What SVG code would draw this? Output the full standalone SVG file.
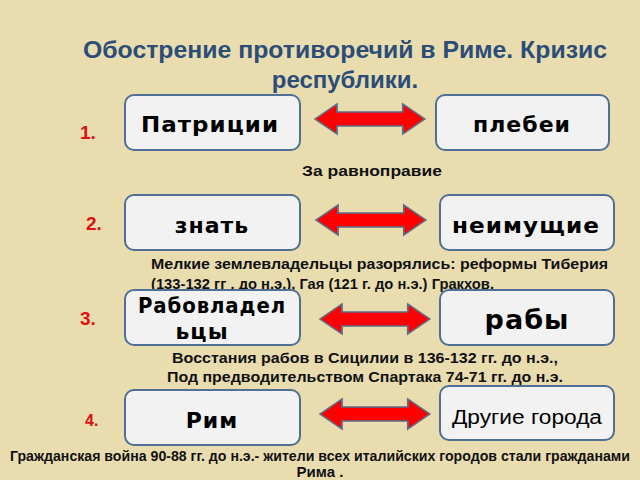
<svg xmlns="http://www.w3.org/2000/svg" width="640" height="480" viewBox="0 0 640 480">
<style>
.box{fill:#f2f2f2;stroke:#4f6f95;stroke-width:2}
.bt{font-family:"DejaVu Sans",sans-serif;font-weight:bold;font-size:22px;fill:#000;text-anchor:middle;letter-spacing:1px}
.arr{fill:#ff0000;stroke:#5a6f8a;stroke-width:1.5}
.cap{font-family:"Liberation Sans",sans-serif;font-weight:bold;font-size:15px;fill:#111}
.num{font-family:"Liberation Sans",sans-serif;font-weight:bold;font-size:19px;fill:#e01010}
.title{font-family:"Liberation Sans",sans-serif;font-weight:bold;font-size:24px;fill:#2b4d78;text-anchor:middle}
</style>
<defs>
<path id="dbl" d="M0,0 L18,-15 L18,-7 L72,-7 L72,-15 L90,0 L72,15 L72,7 L18,7 L18,15 Z"/>
</defs>
<rect width="640" height="480" fill="#e9ddb0"/>
<text class="title" x="345" y="58" textLength="524" lengthAdjust="spacingAndGlyphs">Обострение противоречий в Риме. Кризис</text>
<text class="title" x="345" y="88">республики.</text>
<g id="n1">
<text class="num" x="80" y="139">1.</text>
<g id="patr"><rect class="box" x="125" y="95" width="175" height="55" rx="9"/><text class="bt" x="210" y="132" textLength="138" lengthAdjust="spacingAndGlyphs">Патриции</text></g>
<g id="pleb"><rect class="box" x="436" y="95" width="173" height="55" rx="9"/><text class="bt" x="522" y="132">плебеи</text></g>
<text class="cap" x="372" y="176" text-anchor="middle" textLength="140" lengthAdjust="spacingAndGlyphs">За равноправие</text>
</g>
<g id="n2">
<text class="num" x="86" y="230">2.</text>
<g id="znat"><rect class="box" x="125" y="195" width="175" height="55" rx="9"/><text class="bt" x="212" y="233">знать</text></g>
<g id="neim"><rect class="box" x="440" y="195" width="174" height="55" rx="9"/><text class="bt" x="526" y="233" textLength="148" lengthAdjust="spacingAndGlyphs">неимущие</text></g>
<text class="cap" x="151" y="269" textLength="457" lengthAdjust="spacingAndGlyphs">Мелкие землевладельцы разорялись: реформы Тиберия</text>
<text class="cap" x="151" y="289" textLength="343" lengthAdjust="spacingAndGlyphs">(133-132 гг . до н.э.), Гая (121 г. до н.э.) Гракхов.</text>
</g>
<g id="n3">
<text class="num" x="80" y="325">3.</text>
<g id="rabovl"><rect class="box" x="125" y="290" width="175" height="55" rx="9"/><text class="bt" x="212" y="313" textLength="148" lengthAdjust="spacingAndGlyphs">Рабовладел</text><text class="bt" x="202" y="339">ьцы</text></g>
<g id="raby"><rect class="box" x="440" y="290" width="174" height="55" rx="9"/><text class="bt" x="527" y="329" style="font-size:27px">рабы</text></g>
<text class="cap" x="365" y="363" text-anchor="middle" textLength="386" lengthAdjust="spacingAndGlyphs">Восстания рабов в Сицилии в 136-132 гг. до н.э.,</text>
<text class="cap" x="365" y="382" text-anchor="middle" textLength="396" lengthAdjust="spacingAndGlyphs">Под предводительством Спартака 74-71 гг. до н.э.</text>
</g>
<g id="n4">
<text class="num" x="85" y="426" style="font-size:16px">4.</text>
<g id="rim"><rect class="box" x="125" y="390" width="175" height="55" rx="9"/><text class="bt" x="212" y="428">Рим</text></g>
<g id="dr"><rect class="box" x="440" y="386" width="174" height="54" rx="9"/><text x="527" y="424" text-anchor="middle" textLength="150" lengthAdjust="spacingAndGlyphs" style="font-family:'Liberation Sans',sans-serif;font-size:20px">Другие города</text></g>
<text class="cap" x="320" y="461" text-anchor="middle" textLength="620" lengthAdjust="spacingAndGlyphs">Гражданская война 90-88 гг. до н.э.- жители всех италийских городов стали  гражданами</text>
<text class="cap" x="320" y="477" text-anchor="middle">Рима .</text>
</g>
<g id="connectors">
<use href="#dbl" class="arr" transform="translate(315,119) scale(1.22,1)"/>
<use href="#dbl" class="arr" transform="translate(316,220) scale(1.22,1)"/>
<use href="#dbl" class="arr" transform="translate(320,319) scale(1.22,1)"/>
<use href="#dbl" class="arr" transform="translate(320,414) scale(1.22,1)"/>
</g>
</svg>
